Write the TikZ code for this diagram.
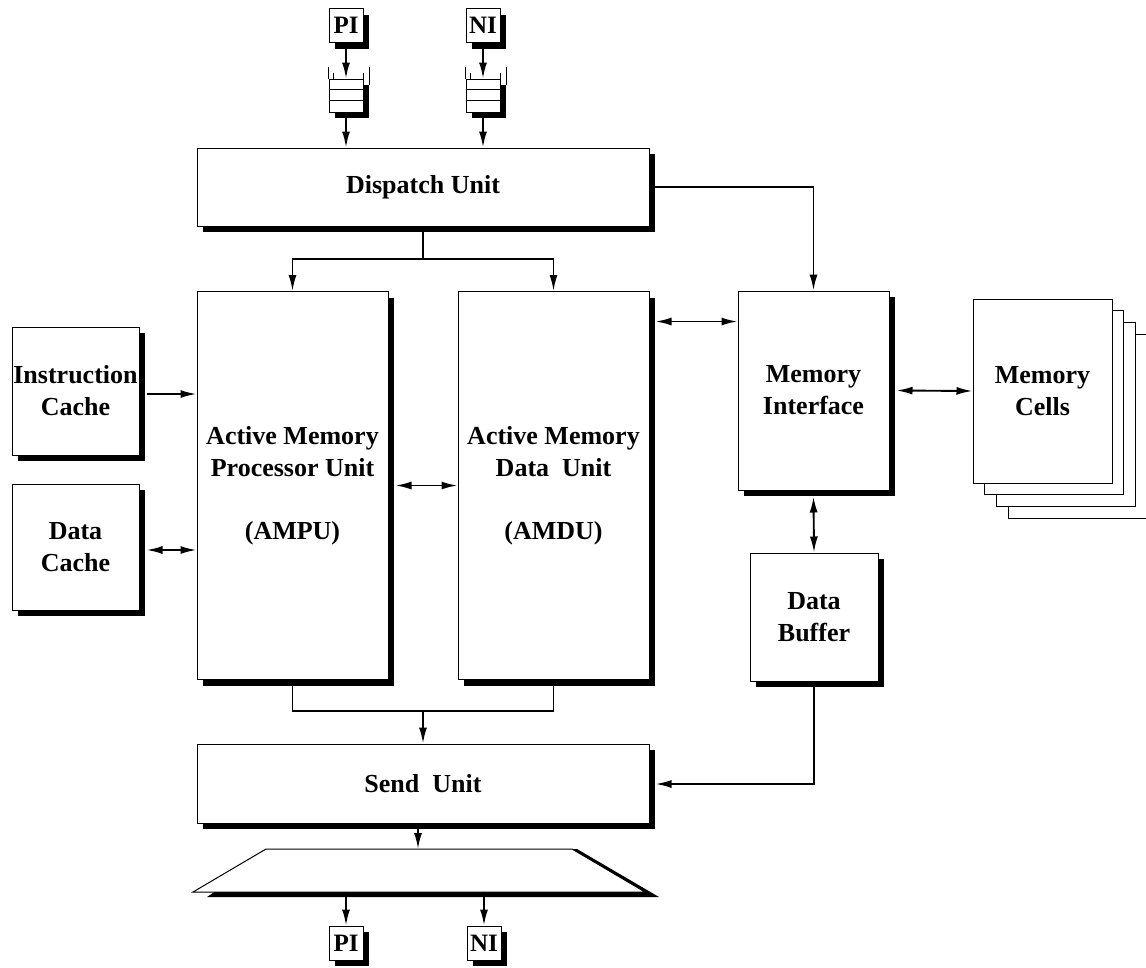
\documentclass[tikz,border=0pt]{standalone}
\usepackage{fontspec}
\setmainfont{Liberation Serif}
\usetikzlibrary{arrows.meta,calc,shadows}
\begin{document}
\begin{tikzpicture}[x=1pt,y=-1pt,
  box/.style={draw=black,line width=1pt,fill=white,inner sep=0pt,
    align=center,font=\fontsize{26}{32}\selectfont\bfseries,
    drop shadow={shadow xshift=6pt,shadow yshift=-6pt,fill=black,opacity=1}},
  pagebox/.style={draw=black,line width=1pt,fill=white,inner sep=0pt,
    minimum width=139pt,minimum height=184pt,align=center,
    font=\fontsize{26}{32}\selectfont\bfseries},
  iobox/.style={box,minimum width=34pt,minimum height=34pt,
    font=\fontsize{25}{25}\selectfont\bfseries},
  conn/.style={line width=1.9pt},
  tip/.tip={Latex[length=16pt,width=8pt]},
  arr/.style={conn,-tip},
  barr/.style={conn,tip-tip}]
\useasboundingbox (0,0) rectangle (1146,967);

% top interfaces
\node[iobox] (piT) at (346,25.5) {PI};
\node[iobox] (niT) at (483,25.5) {NI};

% queues
\foreach \q/\cx in {qP/346,qN/483}{
  \node[box,minimum width=34pt,minimum height=33pt] (\q) at (\cx,95.5) {};
  \draw[line width=1pt] ($(\q.north west)+(0,11)$) -- ($(\q.north east)+(0,11)$);
  \draw[line width=1pt] ($(\q.north west)+(0,22)$) -- ($(\q.north east)+(0,22)$);
  \draw[line width=1pt] (\q.north west) -- ++(0,-12);
  \draw[line width=1pt] ($(\q.north east)+(6,6)$) -- ++(0,-18);
  \draw[line width=1pt] ($(\q.north west)+(5,0)$) -- ++(0,-6);
  \draw[line width=1pt] (\q.north east) -- ++(0,-6);
}

% main boxes
\node[box,minimum width=452pt,minimum height=78pt] (disp) at (423,187) {Dispatch Unit};
\node[box,minimum width=191pt,minimum height=388pt] (ampu) at (292.5,485.5)
  {Active Memory\\Processor Unit\\[31pt](AMPU)};
\node[box,minimum width=191pt,minimum height=388pt] (amdu) at (553.5,485.5)
  {Active Memory\\Data\ \ Unit\\[31pt](AMDU)};
\node[box,minimum width=151pt,minimum height=199pt] (mi) at (813.5,390.5)
  {Memory\\Interface};
\node[box,minimum width=127pt,minimum height=128pt] (ic) at (75.5,391)
  {Instruction\\Cache};
\node[box,minimum width=127pt,minimum height=126pt] (dc) at (75.5,547)
  {Data\\Cache};
\node[box,minimum width=128pt,minimum height=128pt] (db) at (814,617)
  {Data\\Buffer};
\node[box,minimum width=452pt,minimum height=79pt] (send) at (423,783.5) {Send\ \ Unit};

% memory cells stack
\node[pagebox] (mc4) at (1077.5,426) {};
\node[pagebox] (mc3) at (1065.8,414.3) {};
\node[pagebox] (mc2) at (1054.2,402.7) {};
\node[pagebox] (mc1) at (1042.5,391) {Memory\\Cells};

% output network trapezoid
\coordinate (tTL) at (266,849);
\coordinate (tTR) at (572,849);
\coordinate (tBR) at (645,892);
\coordinate (tBL) at (193,892);
\fill[black] ($(tTL)+(6,4)$) -- ($(tTR)+(5,0)$) -- ($(tBR)+(14,5)$) -- ($(tBL)+(14,5)$) -- cycle;
\draw[line width=1pt,fill=white] (tTL) -- (tTR) -- (tBR) -- (tBL) -- cycle;
\coordinate (trapin) at (418,849);

% bottom interfaces
\node[iobox] (piB) at (346,943) {PI};
\node[iobox] (niB) at (484,943) {NI};

% connectors
\draw[arr] (piT.south) -- (qP.north);
\draw[arr] (niT.south) -- (qN.north);
\draw[arr] (qP.south) -- (qP.south |- disp.north);
\draw[arr] (qN.south) -- (qN.south |- disp.north);

\coordinate (dsplit) at (423,259);
\draw[conn] (disp.south) -- (dsplit);
\draw[arr] (dsplit) -| (ampu.north);
\draw[arr] (dsplit) -| (amdu.north);
\draw[arr] (disp.east) -| (mi.north);

\draw[barr] ($(amdu.east |- mi.north)+(6,31)$) -- ($(mi.north west)+(0,31)$);
\draw[barr] ($(mi.east)+(7,0)$) -- (mc1.west);
\draw[barr] ($(mi.south)+(0,6)$) -- (db.north);
\draw[arr] ($(ic.east)+(7,3)$) -- ($(ic.east -| ampu.west)+(0,3)$);
\draw[barr] ($(dc.east)+(7,3)$) -- ($(dc.east -| ampu.west)+(0,3)$);
\draw[barr] ($(ampu.east)+(7,0)$) -- (amdu.west);

\coordinate (msplit) at (423,711);
\draw[conn] (ampu.south) |- (msplit) -| (amdu.south);
\draw[arr] (msplit) -- (send.north);
\draw[arr] (db.south) |- ($(send.east)+(6,0.5)$);

\draw[arr] (send.south -| trapin) -- (trapin);
\draw[arr] (piB.north |- tBL) -- (piB.north);
\draw[arr] (niB.north |- tBL) -- (niB.north);
\end{tikzpicture}
\end{document}
